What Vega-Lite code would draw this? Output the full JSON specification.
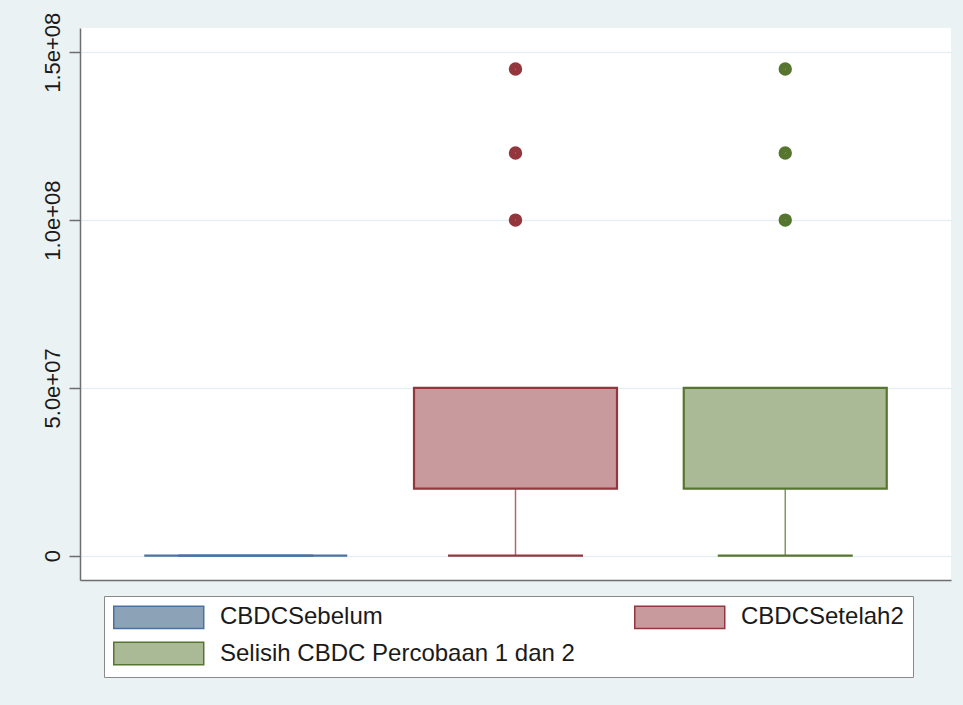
{
  "$schema": "https://vega.github.io/schema/vega-lite/v6.json",
  "width": 871,
  "height": 552,
  "autosize": {"type": "none"},
  "padding": {"left": 80, "top": 28, "right": 12, "bottom": 125},
  "background": "#EAF2F3",
  "config": {
    "view": {"fill": "white", "stroke": null},
    "font": "Liberation Sans",
    "legend": {
      "title": null,
      "orient": "none",
      "direction": "horizontal",
      "legendX": 24,
      "legendY": 568,
      "columns": 2,
      "symbolType": "M-1,-1H7V1H-1Z",
      "symbolSize": 506,
      "symbolStrokeWidth": 1.5,
      "symbolOpacity": 1,
      "labelFont": "Liberation Sans",
      "labelFontSize": 24,
      "labelColor": "#1a1a1a",
      "labelOffset": 83,
      "labelLimit": 600,
      "columnPadding": 56,
      "rowPadding": 6.5,
      "padding": 9,
      "fillColor": "white",
      "strokeColor": "#8a8a8a"
    }
  },
  "datasets": {
    "boxes": [
      {"group": "CBDCSebelum", "lower": 0, "q1": 0, "median": 0, "q3": 0, "upper": 0},
      {"group": "CBDCSetelah2", "lower": 0, "q1": 20000000, "median": 50000000, "q3": 50000000, "upper": 50000000},
      {"group": "Selisih CBDC Percobaan 1 dan 2", "lower": 0, "q1": 20000000, "median": 50000000, "q3": 50000000, "upper": 50000000}
    ],
    "outliers": [
      {"group": "CBDCSetelah2", "value": 145000000},
      {"group": "CBDCSetelah2", "value": 120000000},
      {"group": "CBDCSetelah2", "value": 100000000},
      {"group": "Selisih CBDC Percobaan 1 dan 2", "value": 145000000},
      {"group": "Selisih CBDC Percobaan 1 dan 2", "value": 120000000},
      {"group": "Selisih CBDC Percobaan 1 dan 2", "value": 100000000}
    ]
  },
  "encoding": {
    "x": {
      "field": "group",
      "type": "nominal",
      "sort": ["CBDCSebelum", "CBDCSetelah2", "Selisih CBDC Percobaan 1 dan 2"],
      "scale": {
        "domain": ["CBDCSebelum", "CBDCSetelah2", "Selisih CBDC Percobaan 1 dan 2"],
        "paddingInner": 0.2475,
        "paddingOuter": 0.2382
      },
      "axis": {
        "title": null,
        "labels": false,
        "ticks": false,
        "grid": false,
        "domainColor": "#6e6e6e",
        "domainWidth": 1.5
      }
    },
    "stroke": {
      "field": "group",
      "type": "nominal",
      "scale": {"domain": ["CBDCSebelum", "CBDCSetelah2", "Selisih CBDC Percobaan 1 dan 2"], "range": ["#4A72A0", "#93363E", "#567630"]}
    }
  },
  "layer": [
    {
      "data": {"name": "boxes"},
      "mark": {"type": "rule", "strokeWidth": 1.5, "opacity": 0.75},
      "encoding": {
        "y": {
          "field": "lower",
          "type": "quantitative",
          "scale": {"domain": [-7240000, 157240000], "nice": false, "zero": false},
          "axis": {
            "values": [0, 50000000, 100000000, 150000000],
            "labelExpr": "datum.value == 0 ? '0' : datum.value == 50000000 ? '5.0e+07' : datum.value == 100000000 ? '1.0e+08' : '1.5e+08'",
            "title": null,
            "labelAngle": -90,
            "labelAlign": "center",
            "labelBaseline": "alphabetic",
            "labelFontSize": 22,
            "labelFont": "Liberation Sans",
            "labelColor": "#1a1a1a",
            "labelPadding": 10,
            "labelOverlap": false,
            "tickSize": 11,
            "tickWidth": 1.5,
            "tickColor": "#6e6e6e",
            "domainColor": "#6e6e6e",
            "domainWidth": 1.5,
            "grid": true,
            "gridColor": "#E6EFF1",
            "gridWidth": 1.5
          }
        },
        "y2": {"field": "q1"}
      }
    },
    {
      "data": {"name": "boxes"},
      "mark": {"type": "bar", "width": {"band": 0.665}, "strokeWidth": 2.2, "fillOpacity": 0},
      "encoding": {
        "y": {"field": "lower", "type": "quantitative"},
        "y2": {"field": "lower"}
      }
    },
    {
      "data": {"name": "boxes"},
      "mark": {"type": "bar", "strokeWidth": 2.2},
      "encoding": {
        "y": {"field": "q1", "type": "quantitative"},
        "y2": {"field": "q3"},
        "fill": {
          "field": "group",
          "type": "nominal",
          "scale": {"domain": ["CBDCSebelum", "CBDCSetelah2", "Selisih CBDC Percobaan 1 dan 2"], "range": ["#8CA3B7", "#C89A9D", "#AABA97"]}
        }
      }
    },
    {
      "data": {"name": "outliers"},
      "mark": {"type": "point", "filled": false, "size": 40, "strokeWidth": 7.1, "opacity": 1, "shape": "circle"},
      "encoding": {
        "y": {"field": "value", "type": "quantitative"}
      }
    }
  ]
}
